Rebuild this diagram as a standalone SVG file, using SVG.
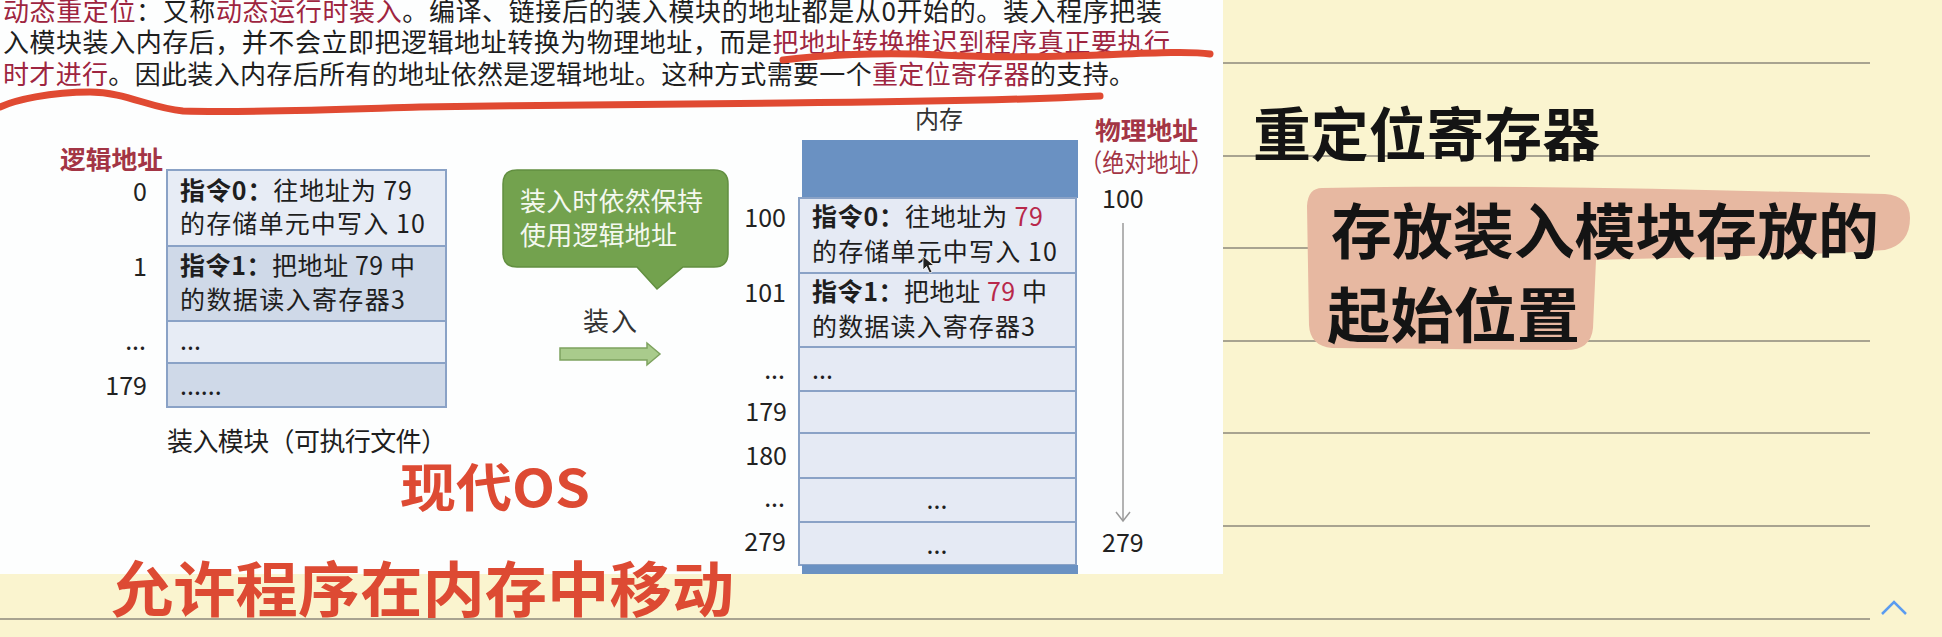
<svg xmlns="http://www.w3.org/2000/svg" width="1942" height="637" viewBox="0 0 1942 637">
<style>
text{font-family:"Noto Sans CJK SC","Liberation Sans",sans-serif;}
.t{font-size:26px;fill:#1e1e1e;}
.r{fill:#9e2540;}
.b{font-size:25px;fill:#1e1e1e;}
.bold{font-weight:700;}
.num{font-size:25px;fill:#222;}
.rule{stroke:#8c897b;stroke-width:1.6;}
.row{stroke:#8aa2c6;stroke-width:2;}
.hw{font-weight:700;fill:#141414;}
.hr{font-weight:700;fill:#dd4a33;}
.ul{fill:none;stroke:#e04a32;stroke-width:7;stroke-linecap:round;}
</style>
<rect x="0" y="0" width="1942" height="637" fill="#faf4cf"/>
<g id="ruled-lines">
<line class="rule" x1="1223" y1="63" x2="1870" y2="63"/>
<line class="rule" x1="1223" y1="156" x2="1870" y2="156"/>
<line class="rule" x1="1223" y1="248" x2="1870" y2="248"/>
<line class="rule" x1="1223" y1="341" x2="1870" y2="341"/>
<line class="rule" x1="1223" y1="433" x2="1870" y2="433"/>
<line class="rule" x1="1223" y1="526" x2="1870" y2="526"/>
<line class="rule" x1="0" y1="619" x2="1870" y2="619"/>
</g>
<rect id="slide" x="0" y="0" width="1223" height="574" fill="#fdfefe"/>
<g id="intro-text">
<text class="t" x="3" y="21" textLength="1159" lengthAdjust="spacing"><tspan class="r">动态重定位</tspan>：又称<tspan class="r">动态运行时装入</tspan>。编译、链接后的装入模块的地址都是从0开始的。装入程序把装</text>
<text class="t" x="3" y="52" textLength="1167" lengthAdjust="spacing">入模块装入内存后，并不会立即把逻辑地址转换为物理地址，而是<tspan class="r">把地址转换推迟到程序真正要执行</tspan></text>
<text class="t" x="3" y="84" textLength="1132" lengthAdjust="spacing"><tspan class="r">时才进行</tspan>。因此装入内存后所有的地址依然是逻辑地址。这种方式需要一个<tspan class="r">重定位寄存器</tspan>的支持。</text>
</g>
<g id="underlines">
<path class="ul" d="M783,60 C820,55 880,52 940,55 C1000,58 1050,57 1100,55 C1150,53 1190,51 1210,54"/>
<path class="ul" d="M0,107 C15,100 50,92 90,92 C125,92 150,108 183,111 C250,113 350,109 420,107 C550,105 700,104 784,103 C900,102 1020,100 1100,96"/>
</g>
<g id="load-module">
<text class="b bold" x="60" y="169" textLength="103" lengthAdjust="spacingAndGlyphs" style="fill:#a33545">逻辑地址</text>
<rect class="row" x="167" y="170" width="279" height="76" fill="#e7ecf5"/>
<rect class="row" x="167" y="246" width="279" height="75" fill="#cfd9e8"/>
<rect class="row" x="167" y="321" width="279" height="42" fill="#e7ecf5"/>
<rect class="row" x="167" y="363" width="279" height="44" fill="#cfd9e8"/>
<text class="b" x="180" y="200" textLength="232" lengthAdjust="spacing"><tspan class="bold">指令0：</tspan>往地址为 79</text>
<text class="b" x="180" y="233" textLength="245" lengthAdjust="spacing">的存储单元中写入 10</text>
<text class="b" x="180" y="275" textLength="235" lengthAdjust="spacing"><tspan class="bold">指令1：</tspan>把地址 79 中</text>
<text class="b" x="180" y="309" textLength="225" lengthAdjust="spacing">的数据读入寄存器3</text>
<text class="b" x="180" y="350">...</text>
<text class="b" x="180" y="395">......</text>
<text class="num" x="147" y="201" text-anchor="end">0</text>
<text class="num" x="147" y="276" text-anchor="end">1</text>
<text class="num" x="146" y="350" text-anchor="end">...</text>
<text class="num" x="147" y="395" text-anchor="end">179</text>
<text class="t" x="167" y="451" textLength="280" lengthAdjust="spacing">装入模块（可执行文件）</text>
</g>
<g id="callout">
<path d="M517,170 L714,170 Q728,170 728,184 L728,253 Q728,267 714,267 L683,267 L657,289 L637,267 L517,267 Q503,267 503,253 L503,184 Q503,170 517,170 Z" fill="#73a24e" stroke="#628f40" stroke-width="1.5"/>
<text x="520" y="211" font-size="26" fill="#f4f8ef" textLength="183" lengthAdjust="spacing">装入时依然保持</text>
<text x="520" y="245" font-size="26" fill="#f4f8ef" textLength="157" lengthAdjust="spacing">使用逻辑地址</text>
</g>
<g id="load-label">
<text x="583" y="331" font-size="26" fill="#333" textLength="54" lengthAdjust="spacing">装入</text>
</g>
<g id="memory">
<text x="915" y="128" font-size="24" fill="#333" textLength="48" lengthAdjust="spacing">内存</text>
<rect x="802" y="140" width="276" height="58" fill="#6a91c2"/>
<rect class="row" x="799" y="198" width="277" height="75" fill="#e5eaf4"/>
<rect class="row" x="799" y="273" width="277" height="74" fill="#e5eaf4"/>
<rect class="row" x="799" y="347" width="277" height="44" fill="#e5eaf4"/>
<rect class="row" x="799" y="391" width="277" height="42" fill="#e5eaf4"/>
<rect class="row" x="799" y="433" width="277" height="45" fill="#e5eaf4"/>
<rect class="row" x="799" y="478" width="277" height="44" fill="#e5eaf4"/>
<rect class="row" x="799" y="522" width="277" height="43" fill="#e5eaf4"/>
<rect x="802" y="565" width="276" height="9" fill="#6a91c2"/>
<text class="b" x="812" y="226" textLength="231" lengthAdjust="spacing"><tspan class="bold">指令0：</tspan>往地址为 <tspan style="fill:#b8284a">79</tspan></text>
<text class="b" x="812" y="261" textLength="245" lengthAdjust="spacing">的存储单元中写入 10</text>
<text class="b" x="812" y="301" textLength="235" lengthAdjust="spacing"><tspan class="bold">指令1：</tspan>把地址 <tspan style="fill:#b8284a">79</tspan> 中</text>
<text class="b" x="812" y="336" textLength="223" lengthAdjust="spacing">的数据读入寄存器3</text>
<text class="b" x="812" y="379">...</text>
<text class="b" x="937" y="509" text-anchor="middle">...</text>
<text class="b" x="937" y="554" text-anchor="middle">...</text>
<text class="num" x="786" y="227" text-anchor="end">100</text>
<text class="num" x="786" y="302" text-anchor="end">101</text>
<text class="num" x="785" y="379" text-anchor="end">...</text>
<text class="num" x="787" y="421" text-anchor="end">179</text>
<text class="num" x="787" y="465" text-anchor="end">180</text>
<text class="num" x="785" y="507" text-anchor="end">...</text>
<text class="num" x="786" y="551" text-anchor="end">279</text>
<path d="M923,256 L923,270 L926.5,266.5 L929.5,273 L932,272 L929,265.5 L934,265.5 Z" fill="#222" stroke="#fff" stroke-width="0.8"/>
</g>
<g id="physical-address">
<text class="b bold" x="1095" y="140" textLength="103" lengthAdjust="spacingAndGlyphs" style="fill:#a33545">物理地址</text>
<text class="b" x="1080" y="172" textLength="133" lengthAdjust="spacingAndGlyphs" style="fill:#a33545">（绝对地址）</text>
<text class="num" x="1102" y="208">100</text>
<text class="num" x="1102" y="552">279</text>
</g>
<g id="connectors">
<polygon points="560,348 647,348 647,343 660,354 647,365 647,360 560,360" fill="#a9cb8c" stroke="#7ea35f" stroke-width="1.5"/>
<line x1="1123" y1="223" x2="1123" y2="521" stroke="#9a9a9a" stroke-width="1.5"/>
<polyline points="1116,512 1123,521 1130,512" fill="none" stroke="#9a9a9a" stroke-width="1.5"/>
</g>
<g id="note-register">
<text class="hw" x="1253" y="156" font-size="58" textLength="347" lengthAdjust="spacingAndGlyphs">重定位寄存器</text>
</g>
<g id="note-start-address">
<path d="M1322,188 C1500,184 1700,190 1885,194 Q1910,196 1910,218 Q1910,244 1885,250 C1800,256 1650,258 1596,260 L1593,328 Q1591,350 1566,350 L1332,348 Q1310,346 1309,325 L1307,206 Q1308,188 1322,188 Z" fill="#e7b8a1"/>
<text class="hw" x="1331" y="254" font-size="60" textLength="548" lengthAdjust="spacingAndGlyphs">存放装入模块存放的</text>
<text class="hw" x="1327" y="338" font-size="60" textLength="253" lengthAdjust="spacingAndGlyphs">起始位置</text>
</g>
<g id="note-modern-os">
<text class="hr" x="400" y="507" font-size="52" textLength="190" lengthAdjust="spacingAndGlyphs">现代OS</text>
<text class="hr" x="111" y="612" font-size="60" textLength="623" lengthAdjust="spacingAndGlyphs">允许程序在内存中移动</text>
</g>
<polyline id="scroll-up" points="1882,614 1894,602 1906,614" fill="none" stroke="#5b9cf0" stroke-width="2.5"/>
</svg>
